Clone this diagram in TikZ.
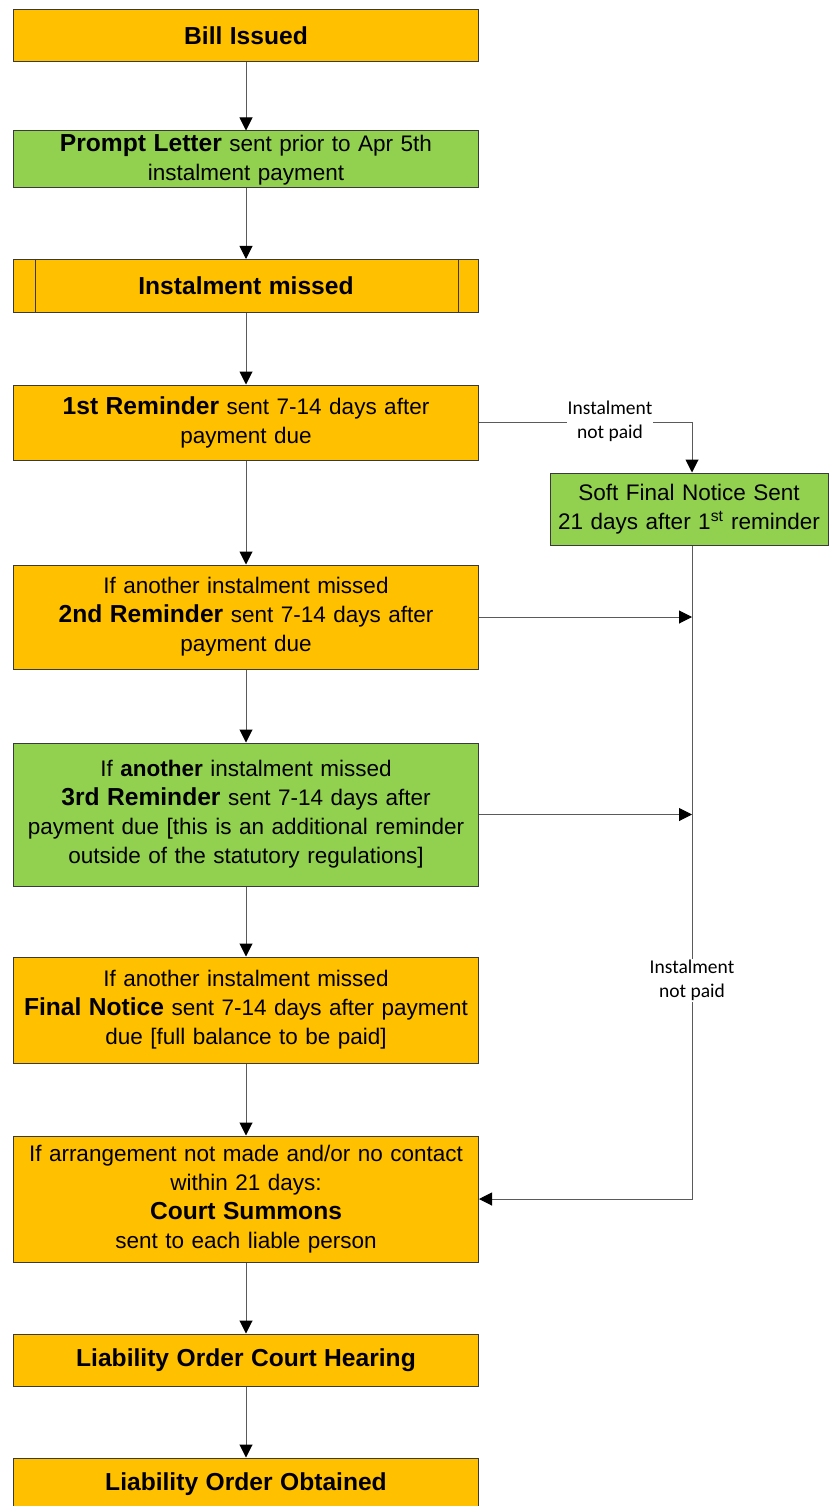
\documentclass[tikz,border=0pt]{standalone}
\usepackage{fontspec}
\setmainfont{Liberation Sans}
\newfontfamily\lblfont{Carlito}
\usetikzlibrary{arrows.meta}
\definecolor{orangebox}{HTML}{FFC000}
\definecolor{greenbox}{HTML}{92D050}
\definecolor{linegray}{HTML}{5A5A5A}
\definecolor{bordergray}{HTML}{3A3A3A}
\newcommand\txtR{\fontsize{22.5}{29}\selectfont}
\newcommand\txtB{\fontsize{24.6}{29}\selectfont\bfseries}
\begin{document}
\begin{tikzpicture}[x=1pt,y=-1pt,
  box/.style={draw=bordergray,line width=1pt,minimum width=465pt,text width=455pt,align=center,inner sep=0pt,font=\txtR},
  obox/.style={box,fill=orangebox},
  gbox/.style={box,fill=greenbox},
  conn/.style={draw=linegray,line width=1pt,-{Triangle[width=13pt,length=13pt,fill=black,color=black]}},
  plain/.style={draw=linegray,line width=1pt},
  lbl/.style={font=\lblfont\fontsize{19.5}{24}\selectfont,fill=white,align=center,inner sep=1pt}]
\useasboundingbox (0,0) rectangle (829,1506);
\clip (0,0) rectangle (829,1506);

\node[obox,minimum height=52pt] (bill) at (246,36) {\txtB Bill Issued};
\node[gbox,minimum height=57pt] (prompt) at (246,159.5) {{\txtB Prompt Letter} sent prior to Apr 5th\\instalment payment};
\node[obox,minimum height=53pt] (miss) at (246,286) {\txtB Instalment missed};
\draw[draw=bordergray,line width=1pt] ([xshift=22pt]miss.north west) -- ([xshift=22pt]miss.south west);
\draw[draw=bordergray,line width=1pt] ([xshift=-21pt]miss.north east) -- ([xshift=-21pt]miss.south east);
\node[obox,minimum height=75pt] (r1) at (246,422.5) {{\txtB 1st Reminder} sent 7-14 days after\\payment due};
\node[obox,minimum height=104pt] (r2) at (246,617) {If another instalment missed\\{\txtB 2nd Reminder} sent 7-14 days after\\payment due};
\node[gbox,minimum height=143pt] (r3) at (246,814.5) {If \textbf{another} instalment missed\\{\txtB 3rd Reminder} sent 7-14 days after\\payment due [this is an additional reminder\\outside of the statutory regulations]};
\node[obox,minimum height=106pt] (fn) at (246,1010) {If another instalment missed\\{\txtB Final Notice} sent 7-14 days after payment\\due [full balance to be paid]};
\node[obox,minimum height=126pt] (cs) at (246,1199) {If arrangement not made and/or no contact\\within 21 days:\\{\txtB Court Summons}\\sent to each liable person};
\node[obox,minimum height=52pt] (hear) at (246,1360) {\txtB Liability Order Court Hearing};
\node[obox,minimum height=52pt] (obt) at (246,1484) {\txtB Liability Order Obtained};
\node[gbox,minimum width=278pt,text width=275pt,minimum height=72pt] (soft) at (689,509) {Soft Final Notice Sent\\21 days after 1\textsuperscript{st} reminder};

\draw[conn] (bill) -- (prompt);
\draw[conn] (prompt) -- (miss);
\draw[conn] (miss) -- (r1);
\draw[conn] (r1) -- (r2);
\draw[conn] (r2) -- (r3);
\draw[conn] (r3) -- (fn);
\draw[conn] (fn) -- (cs);
\draw[conn] (cs) -- (hear);
\draw[conn] (hear) -- (obt);

\coordinate (vx) at (692,0);
\draw[conn] (r1.east) -| (soft.north -| vx);
\node[lbl] (l1) at (610,421) {Instalment\\not paid};
\coordinate (j2) at (vx |- r2.east);
\coordinate (j3) at (vx |- r3.east);
\draw[conn] (r2.east) -- (j2);
\draw[conn] (r3.east) -- (j3);
\draw[conn] (soft.south -| vx) |- (cs.east);
\coordinate (l2pos) at (vx |- 0,980.5);
\node[lbl] (l2) at (l2pos) {Instalment\\not paid};
\end{tikzpicture}
\end{document}
